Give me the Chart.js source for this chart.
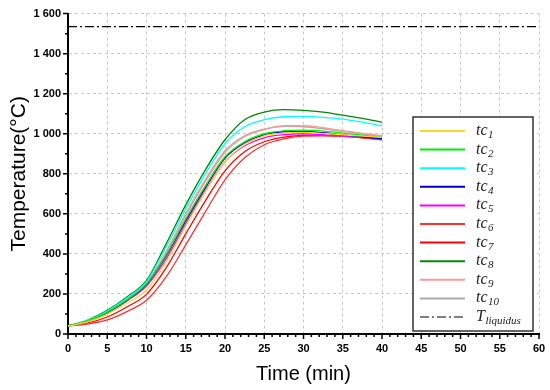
<!DOCTYPE html>
<html>
<head>
<meta charset="utf-8">
<script src="https://cdn.jsdelivr.net/npm/chart.js@4.4.0/dist/chart.umd.min.js"></script>
<style>
  html, body { margin: 0; padding: 0; background: #fff; }
  #wrap { width: 550px; height: 390px; }
</style>
</head>
<body>
<div id="wrap"><canvas id="chart" width="550" height="390"></canvas></div>
<script>
// time in minutes
var times = [0, 2.5, 5, 7.5, 10, 12.5, 15, 17.5, 20, 22.5, 25, 27.5, 30, 32.5, 35, 37.5, 40];

// thermocouple readings (°C)
var tc1  = [40, 60,  98, 155, 220, 360, 540, 710, 860, 945,  990, 1003, 1007, 1002,  995,  988,  982];
var tc2  = [40, 65, 108, 170, 250, 395, 575, 740, 885, 960, 1000, 1015, 1018, 1013, 1003,  993,  982];
var tc3  = [40, 68, 115, 180, 262, 435, 625, 800, 950, 1035, 1070, 1085, 1087, 1082, 1073, 1058, 1040];
var tc4  = [40, 64, 107, 168, 248, 390, 565, 730, 878, 955,  995, 1010, 1012, 1005,  995,  985,  975];
var tc5  = [40, 63, 105, 165, 240, 375, 550, 715, 860, 940,  980,  995, 1000,  995,  990,  983,  977];
var tc6  = [40, 50,  70, 112, 168, 285, 445, 610, 770, 880,  945,  975,  988,  990,  987,  980,  970];
var tc7  = [40, 55,  85, 135, 198, 330, 500, 665, 815, 910,  960,  983,  992,  992,  988,  980,  972];
var tc8  = [40, 70, 118, 185, 268, 450, 645, 820, 970, 1070, 1108, 1120, 1117, 1108, 1093, 1077, 1057];
var tc9  = [40, 65, 110, 172, 252, 405, 592, 760, 905, 985, 1020, 1040, 1040, 1030, 1015, 1002,  990];
var tc10 = [40, 66, 112, 175, 255, 410, 600, 770, 915, 990, 1023, 1037, 1035, 1025, 1012, 1000,  987];

var liquidus = 1535;
var liquidusRange = [0, 60];

var series = [tc1, tc2, tc3, tc4, tc5, tc6, tc7, tc8, tc9, tc10];
var colors = ['#ffd42a', '#00ee00', '#00ffff', '#0000cc', '#ff00ff', '#ff3030', '#ff0000', '#008800', '#ff9999', '#aaaaaa'];

function toPoints(vals) {
  return vals.map(function (v, i) { return {x: times[i], y: v}; });
}

var datasets = series.map(function (s, i) {
  return {
    label: 'tc' + (i + 1),
    sub: String(i + 1),
    data: toPoints(s),
    borderColor: colors[i],
    borderWidth: 1.3,
    pointRadius: 0,
    cubicInterpolationMode: 'monotone',
    fill: false
  };
});
datasets.push({
  label: 'T_liquidus',
  main: 'T',
  sub: 'liquidus',
  data: liquidusRange.map(function (x) { return {x: x, y: liquidus}; }),
  borderColor: '#000',
  borderWidth: 1.2,
  borderDash: [9, 3, 2, 3],
  pointRadius: 0,
  fill: false
});

// minor/major tick marks drawn on the axes
var tickMarks = {
  id: 'tickMarks',
  afterDraw: function (chart) {
    var ctx = chart.ctx;
    var xs = chart.scales.x, ys = chart.scales.y;
    var area = chart.chartArea;
    ctx.save();
    ctx.strokeStyle = '#000';
    ctx.lineWidth = 1.5;
    ctx.beginPath();
    for (var t = 0; t <= 60; t += 1) {
      var px = xs.getPixelForValue(t);
      var len = (t % 5 === 0) ? 5 : 3;
      ctx.moveTo(px, area.bottom);
      ctx.lineTo(px, area.bottom + len);
    }
    for (var v = 0; v <= 1600; v += 100) {
      var py = ys.getPixelForValue(v);
      var l = (v % 200 === 0) ? 5 : 3;
      ctx.moveTo(area.left, py);
      ctx.lineTo(area.left - l, py);
    }
    ctx.stroke();
    ctx.restore();
  }
};

// legend box with subscripted labels
var boxLegend = {
  id: 'boxLegend',
  afterDraw: function (chart) {
    var ctx = chart.ctx;
    var bx = 413, by = 117, bw = 120, bh = 214;
    ctx.save();
    ctx.fillStyle = '#fff';
    ctx.fillRect(bx, by, bw, bh);
    ctx.strokeStyle = '#333';
    ctx.lineWidth = 1.5;
    ctx.strokeRect(bx, by, bw, bh);
    chart.data.datasets.forEach(function (ds, i) {
      var y = 131 + i * 18.6;
      ctx.strokeStyle = ds.borderColor;
      ctx.lineWidth = i < 10 ? 2 : 1.2;
      ctx.setLineDash(ds.borderDash || []);
      ctx.beginPath();
      ctx.moveTo(420, y);
      ctx.lineTo(465, y);
      ctx.stroke();
      ctx.setLineDash([]);
      ctx.fillStyle = '#222';
      ctx.textBaseline = 'alphabetic';
      ctx.textAlign = 'left';
      var main = ds.main || 'tc';
      ctx.font = 'italic 16px "Liberation Serif", "DejaVu Serif", serif';
      ctx.fillText(main, 476, y + 4);
      var w = ctx.measureText(main).width;
      ctx.font = 'italic 11px "Liberation Serif", "DejaVu Serif", serif';
      ctx.fillText(ds.sub, 476 + w + 0.5, y + 7);
    });
    ctx.restore();
  }
};

var gridColor = '#c8c8c8';

new Chart(document.getElementById('chart'), {
  type: 'line',
  data: { datasets: datasets },
  options: {
    responsive: false,
    animation: false,
    layout: { padding: { top: 7, right: 11, bottom: 2, left: 0 } },
    plugins: {
      legend: { display: false },
      tooltip: { enabled: false }
    },
    scales: {
      x: {
        type: 'linear',
        min: 0,
        max: 60,
        ticks: {
          stepSize: 5,
          color: '#000',
          padding: 8,
          font: { family: '"Liberation Sans", Arial, sans-serif', size: 11, weight: 'bold' }
        },
        grid: { color: gridColor, lineWidth: 1, drawTicks: false },
        border: { display: true, color: '#000', width: 2, dash: [3, 3] },
        title: {
          display: true,
          text: 'Time (min)',
          color: '#000',
          padding: { top: 4, bottom: 2 },
          font: { family: '"Liberation Sans", Arial, sans-serif', size: 20 }
        },
        afterFit: function (scale) {
          scale.height = 54;
          scale.paddingRight = 0;
          scale.paddingLeft = 0;
        }
      },
      y: {
        min: 0,
        max: 1600,
        ticks: {
          stepSize: 200,
          color: '#000',
          padding: 7,
          font: { family: '"Liberation Sans", Arial, sans-serif', size: 11, weight: 'bold' },
          callback: function (v) {
            return v >= 1000 ? String(v).replace(/(\d)(\d{3})$/, '$1 $2') : String(v);
          }
        },
        grid: { color: gridColor, lineWidth: 1, drawTicks: false },
        border: { display: true, color: '#000', width: 2, dash: [3, 3] },
        title: {
          display: true,
          text: 'Temperature(°C)',
          color: '#000',
          padding: { top: 7, bottom: 0 },
          font: { family: '"Liberation Sans", Arial, sans-serif', size: 21 }
        },
        afterFit: function (scale) { scale.width = 68; }
      }
    }
  },
  plugins: [tickMarks, boxLegend]
});
</script>
</body>
</html>
